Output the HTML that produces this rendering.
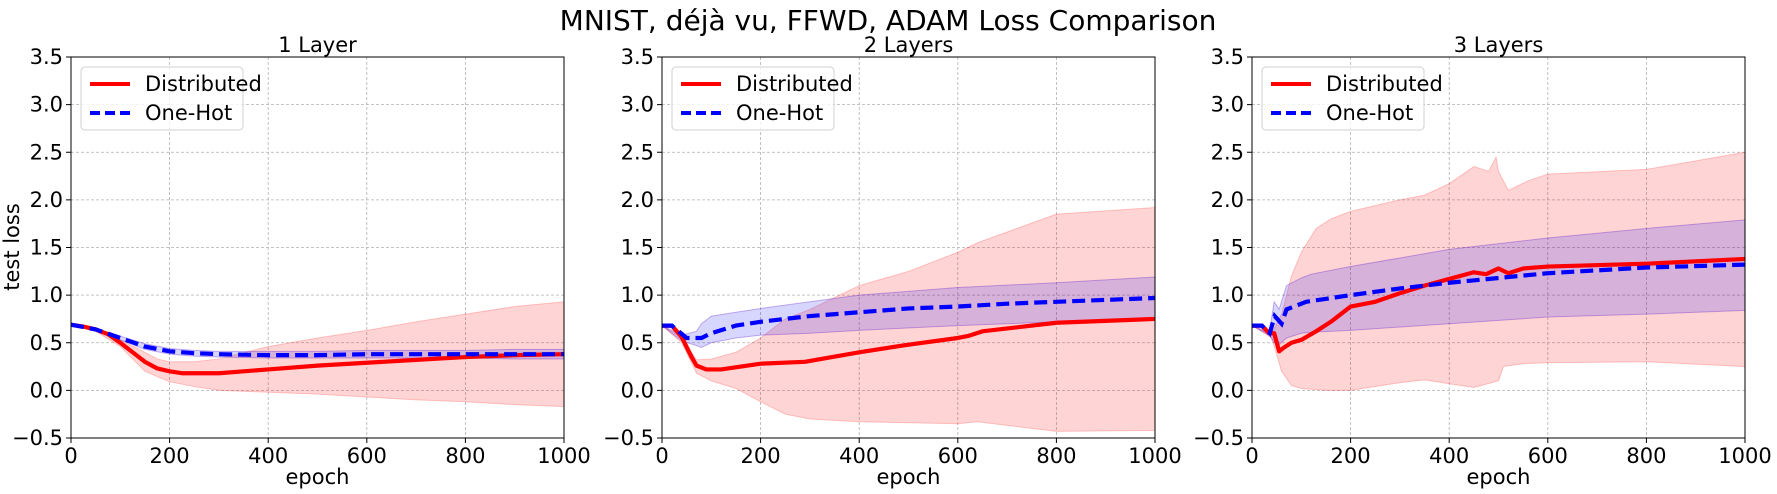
<!DOCTYPE html>
<html><head><meta charset="utf-8"><style>
body{margin:0;background:#fff;}
svg{display:block;font-family:"DejaVu Sans","Liberation Sans",sans-serif;}
</style></head><body>
<svg id="chart" width="1777" height="494" viewBox="0 0 1777 494">
<text x="888" y="30" font-size="28" text-anchor="middle">MNIST, déjà vu, FFWD, ADAM Loss Comparison</text>
</svg>
<script>
// Panel 1 data
const p1DistX=[0,25,50,75,100,125,150,175,200,225,250,300,400,500,600,700,800,900,1000];
const p1DistY=[0.69,0.67,0.64,0.59,0.5,0.4,0.3,0.23,0.2,0.18,0.18,0.18,0.22,0.26,0.29,0.32,0.35,0.37,0.38];
const p1DistUX=[0,50,100,150,175,200,250,300,400,500,600,700,800,900,1000];
const p1DistU=[0.69,0.66,0.53,0.4,0.33,0.3,0.3,0.33,0.46,0.55,0.63,0.72,0.8,0.88,0.93];
const p1DistLX=[0,50,100,150,200,250,300,400,500,600,700,800,900,1000];
const p1DistL=[0.69,0.62,0.46,0.2,0.09,0.04,0.0,-0.02,-0.04,-0.07,-0.1,-0.12,-0.15,-0.17];
const p1HotX=[0,50,100,150,200,250,300,400,500,600,700,800,900,1000];
const p1HotY=[0.69,0.64,0.55,0.46,0.41,0.39,0.38,0.37,0.37,0.38,0.38,0.38,0.38,0.38];
const p1HotU=[0.69,0.65,0.57,0.49,0.44,0.42,0.41,0.41,0.41,0.42,0.42,0.42,0.43,0.43];
const p1HotL=[0.69,0.63,0.53,0.43,0.38,0.36,0.35,0.34,0.34,0.34,0.34,0.34,0.33,0.33];
// Panel 2 data
const p2DistX=[0,20,40,60,70,90,120,200,290,400,500,600,620,650,800,1000];
const p2DistY=[0.68,0.68,0.56,0.35,0.26,0.22,0.22,0.28,0.3,0.4,0.48,0.55,0.57,0.62,0.71,0.75];
const p2DistUX=[0,40,70,100,150,200,250,300,400,500,600,640,800,1000];
const p2DistU=[0.68,0.56,0.32,0.33,0.4,0.55,0.75,0.85,1.1,1.25,1.45,1.55,1.85,1.92];
const p2DistL=[0.68,0.5,0.18,0.1,0.02,-0.12,-0.25,-0.3,-0.33,-0.34,-0.35,-0.33,-0.43,-0.42];
const p2HotX=[0,20,50,80,100,150,200,300,400,500,600,700,800,900,1000];
const p2HotY=[0.68,0.68,0.55,0.55,0.6,0.68,0.72,0.78,0.82,0.86,0.88,0.91,0.93,0.95,0.97];
const p2HotBX=[0,40,70,80,100,150,200,300,400,600,800,1000];
const p2HotU=[0.68,0.58,0.62,0.7,0.78,0.82,0.86,0.93,1.0,1.08,1.13,1.19];
const p2HotL=[0.68,0.52,0.47,0.45,0.5,0.55,0.58,0.6,0.63,0.68,0.72,0.76];
// Panel 3 data
const p3DistX=[0,20,35,45,55,65,80,100,130,160,180,200,250,300,350,400,450,475,500,520,550,600,800,1000];
const p3DistY=[0.68,0.68,0.6,0.6,0.41,0.45,0.5,0.53,0.62,0.72,0.8,0.88,0.93,1.02,1.1,1.17,1.24,1.22,1.28,1.23,1.28,1.3,1.33,1.38];
const p3DistUX=[0,40,60,80,100,130,160,200,300,350,400,450,480,495,500,520,560,600,800,1000];
const p3DistU=[0.68,0.6,0.8,1.2,1.45,1.7,1.8,1.88,2.0,2.05,2.17,2.35,2.3,2.45,2.3,2.1,2.2,2.27,2.32,2.5];
const p3DistLX=[0,40,60,80,100,150,200,300,350,400,450,500,510,550,600,800,1000];
const p3DistL=[0.68,0.55,0.2,0.05,0.02,0.0,0.0,0.08,0.11,0.07,0.03,0.1,0.25,0.28,0.29,0.3,0.25];
const p3HotX=[0,20,36,46,60,70,110,200,300,400,600,800,1000];
const p3HotY=[0.68,0.68,0.6,0.78,0.7,0.85,0.93,1.0,1.07,1.13,1.23,1.29,1.32];
const p3HotBX=[0,35,45,55,70,100,120,200,400,600,800,1000];
const p3HotU=[0.68,0.6,0.93,0.85,1.1,1.18,1.22,1.3,1.48,1.6,1.7,1.79];
const p3HotL=[0.68,0.58,0.5,0.48,0.55,0.6,0.61,0.63,0.7,0.77,0.8,0.84];

const xTicks=[0,200,400,600,800,1000];
const yTicks=[-0.5,0,0.5,1,1.5,2,2.5,3,3.5];
const yTickLabels=["\u22120.5","0.0","0.5","1.0","1.5","2.0","2.5","3.0","3.5"];
const panelTitles=["1 Layer","2 Layers","3 Layers"];

const NS="http://www.w3.org/2000/svg";
const svg=document.getElementById('chart');
const lefts=[71,662,1252], W=493, TOP=57, BOT=438;
function mk(tag,attrs,parent){const e=document.createElementNS(NS,tag);for(const k in attrs)e.setAttribute(k,attrs[k]);(parent||svg).appendChild(e);return e;}

const panels=[
 {dx:p1DistX,dy:p1DistY,dux:p1DistUX,du:p1DistU,dlx:p1DistLX,dl:p1DistL,hx:p1HotX,hy:p1HotY,hbx:p1HotX,hu:p1HotU,hl:p1HotL},
 {dx:p2DistX,dy:p2DistY,dux:p2DistUX,du:p2DistU,dlx:p2DistUX,dl:p2DistL,hx:p2HotX,hy:p2HotY,hbx:p2HotBX,hu:p2HotU,hl:p2HotL},
 {dx:p3DistX,dy:p3DistY,dux:p3DistUX,du:p3DistU,dlx:p3DistLX,dl:p3DistL,hx:p3HotX,hy:p3HotY,hbx:p3HotBX,hu:p3HotU,hl:p3HotL}
];

panels.forEach((p,i)=>{
  const L=lefts[i];
  const sx=v=>L+v/1000*W;
  const sy=v=>BOT-(v+0.5)/4*(BOT-TOP);
  const g=mk('g',{});
  
  
  xTicks.forEach(t=>{const l=mk('line',{x1:sx(t),x2:sx(t),y1:TOP,y2:BOT,stroke:'#b0b0b0','stroke-width':0.8,'stroke-dasharray':'3,2'},g);
    });
  yTicks.forEach(t=>{const l=mk('line',{x1:L,x2:L+W,y1:sy(t),y2:sy(t),stroke:'#b0b0b0','stroke-width':0.8,'stroke-dasharray':'3,2'},g);
    });
  const band=(ux,u,lx,l)=>{let d='M'+ux.map((x,k)=>sx(x)+','+sy(u[k])).join(' L');
    for(let k=lx.length-1;k>=0;k--)d+=' L'+sx(lx[k])+','+sy(l[k]);return d+'Z';};
  const db=mk('path',{d:band(p.dux,p.du,p.dlx,p.dl),fill:'rgba(255,0,0,0.17)',stroke:'rgba(255,0,0,0.2)','stroke-width':1},g);
  
  const hb=mk('path',{d:band(p.hbx,p.hu,p.hbx,p.hl),fill:'rgba(0,0,255,0.16)',stroke:'rgba(80,0,200,0.3)','stroke-width':1},g);
  
  const line=(xs,ys)=>xs.map((x,k)=>(k?'L':'M')+sx(x)+','+sy(ys[k])).join(' ');
  const dl=mk('path',{d:line(p.dx,p.dy),fill:'none',stroke:'#ff0000','stroke-width':4.2,'stroke-linejoin':'round'},g);
  
  const hl=mk('path',{d:line(p.hx,p.hy),fill:'none',stroke:'#0000ff','stroke-width':4.2,'stroke-dasharray':'13,6'},g);
  
  const fr=mk('rect',{x:L,y:TOP,width:W,height:BOT-TOP,fill:'none',stroke:'#000','stroke-width':1},g);
  
  xTicks.forEach(t=>{mk('line',{x1:sx(t),x2:sx(t),y1:BOT,y2:BOT+5,stroke:'#000'},g);
    const tx=mk('text',{x:sx(t),y:BOT+25,'font-size':21,'text-anchor':'middle'},g);tx.textContent=t;
    });
  yTicks.forEach((t,k)=>{mk('line',{x1:L-5,x2:L,y1:sy(t),y2:sy(t),stroke:'#000'},g);
    const tx=mk('text',{x:L-8,y:sy(t)+7,'font-size':21,'text-anchor':'end'},g);tx.textContent=yTickLabels[k];
    });
  const xl=mk('text',{x:L+W/2,y:484,'font-size':21,'text-anchor':'middle'},g);xl.textContent='epoch';
  
  const tt=mk('text',{x:L+W/2,y:52,'font-size':21,'text-anchor':'middle'},g);tt.textContent=panelTitles[i];
  
  const lg=mk('g',{},g);
  
  mk('rect',{x:L+10,y:67,width:162,height:63,rx:4,fill:'rgba(255,255,255,0.8)',stroke:'#d0d0d0'},lg);
  mk('line',{x1:L+19,x2:L+59,y1:84,y2:84,stroke:'#ff0000','stroke-width':4},lg);
  mk('line',{x1:L+19,x2:L+59,y1:113,y2:113,stroke:'#0000ff','stroke-width':4,'stroke-dasharray':'10,5'},lg);
  const t1=mk('text',{x:L+74,y:91,'font-size':21},lg);t1.textContent='Distributed';
  
  const t2=mk('text',{x:L+74,y:120,'font-size':21},lg);t2.textContent='One-Hot';
  
});
const yl=mk('text',{x:0,y:0,'font-size':21,'text-anchor':'middle',transform:'translate(19,247) rotate(-90)'});
yl.textContent='test loss';


</script>
</body></html>
